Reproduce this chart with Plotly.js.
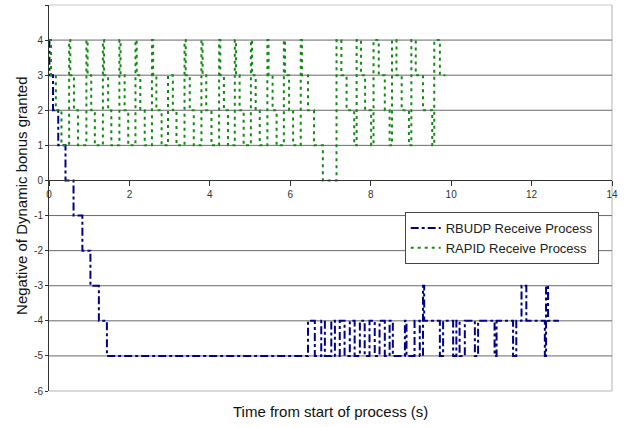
<!DOCTYPE html>
<html>
<head>
<meta charset="utf-8">
<script src="https://cdn.plot.ly/plotly-3.0.1.min.js"></script>
<style>html,body{margin:0;padding:0;background:#fff;}#chart{width:629px;height:427px;}</style>
</head>
<body>
<div id="chart"></div>
<script>
// RBUDP Receive Process (step series)
const rbudpTime = [0, 0.01, 0.10, 0.23, 0.41, 0.61, 0.83, 1.03, 1.24, 1.44,
  6.44, 6.61, 6.77, 6.86, 7.02, 7.11, 7.23, 7.35, 7.48, 7.60, 7.73, 7.85, 7.97, 8.10,
  8.22, 8.35, 8.47, 8.55, 8.85, 8.89, 9.09, 9.22, 9.30, 9.33, 9.72, 9.80, 10.05, 10.13,
  10.21, 10.34, 10.59, 10.67, 11.08, 11.13, 11.54, 11.62, 11.75, 11.87, 12.33, 12.36,
  12.41, 12.68];
const rbudpValue = [4, 3, 2, 1, 0, -1, -2, -3, -4, -5,
  -4, -5, -4, -5, -4, -5, -4, -5, -4, -5, -4, -5, -4, -5,
  -4, -5, -4, -5, -4, -5, -4, -5, -3, -4, -5, -4, -5, -4,
  -5, -4, -5, -4, -5, -4, -5, -4, -3, -4, -5, -3,
  -4, -4];

// RAPID Receive Process (step series)
const rapidTime = [0, 0.05, 0.17, 0.31,
  0.50, 0.53, 0.62, 0.72,
  0.93, 0.96, 1.05, 1.14,
  1.34, 1.37, 1.47, 1.55,
  1.75, 1.78, 1.88, 1.97,
  2.15, 2.18, 2.27, 2.38,
  2.56, 2.59, 2.67, 2.80,
  2.96, 3.08, 3.17,
  3.37, 3.40, 3.50, 3.60,
  3.79, 3.82, 3.91, 4.04,
  4.23, 4.26, 4.35, 4.45,
  4.62, 4.65, 4.74, 4.84,
  5.02, 5.05, 5.14, 5.24,
  5.43, 5.46, 5.56, 5.66,
  5.84, 5.87, 5.97, 6.07,
  6.26, 6.29, 6.44, 6.59, 6.81,
  7.15, 7.27, 7.40, 7.59,
  7.65, 7.76, 7.86, 8.01,
  8.07, 8.20, 8.35, 8.47,
  8.53, 8.64, 8.77, 8.95,
  9.01, 9.12, 9.30, 9.53,
  9.58, 9.72, 9.86];
const rapidValue = [4, 3, 2, 1,
  4, 3, 2, 1,
  4, 3, 2, 1,
  4, 3, 2, 1,
  4, 3, 2, 1,
  4, 3, 2, 1,
  4, 3, 2, 1,
  3, 2, 1,
  4, 3, 2, 1,
  4, 3, 2, 1,
  4, 3, 2, 1,
  4, 3, 2, 1,
  4, 3, 2, 1,
  4, 3, 2, 1,
  4, 3, 2, 1,
  4, 3, 2, 1, 0,
  4, 3, 2, 1,
  4, 3, 2, 1,
  4, 3, 2, 1,
  4, 3, 2, 1,
  4, 3, 2, 1,
  4, 3, 3];

const seriesNames = ["RBUDP Receive Process", "RAPID Receive Process"];
const xTickVals = [0, 2, 4, 6, 8, 10, 12, 14];
const xTickText = ["0", "2", "4", "6", "8", "10", "12", "14"];
const yTickVals = [-6, -5, -4, -3, -2, -1, 0, 1, 2, 3, 4, 5];
const yTickText = ["-6", "-5", "-4", "-3", "-2", "-1", "0", "1", "2", "3", "4", "5"];
const gridVals = [-5, -4, -3, -2, -1, 1, 2, 3, 4];
const xTitle = "Time from start of process (s)";
const yTitle = "Negative of Dynamic bonus granted";

const traces = [
  {
    x: rbudpTime, y: rbudpValue, name: seriesNames[0], type: "scatter", mode: "lines",
    line: {shape: "hv", color: "#000088", width: 2, dash: "8px,3px,3px,3px"}
  },
  {
    x: rapidTime, y: rapidValue, name: seriesNames[1], type: "scatter", mode: "lines",
    line: {shape: "hv", color: "#138a13", width: 2, dash: "3px,4px"}
  }
];

const tickFont = {family: "Liberation Sans, Arial, sans-serif", size: 10, color: "#333"};
const frameColor = "#b4b4b4";
const shapes = [
  {type: "line", xref: "paper", yref: "paper", x0: 0, x1: 1, y0: 1, y1: 1, line: {color: "#c8c8c8", width: 1}, layer: "below"},
  {type: "line", xref: "paper", yref: "paper", x0: 1, x1: 1, y0: 0, y1: 1, line: {color: frameColor, width: 1}, layer: "below"},
  {type: "line", xref: "paper", yref: "paper", x0: 0, x1: 1, y0: 0, y1: 0, line: {color: frameColor, width: 1}, layer: "below"}
];
gridVals.forEach(v => shapes.push({
  type: "line", xref: "paper", yref: "y", x0: 0, x1: 1, y0: v, y1: v,
  line: {color: "#6a6a6a", width: 1}, layer: "below"
}));

const layout = {
  width: 629, height: 427,
  margin: {l: 49, r: 17, t: 5, b: 36, pad: 0},
  paper_bgcolor: "#fff", plot_bgcolor: "#fff",
  showlegend: true,
  legend: {
    x: 0.9764, xanchor: "right", y: 0.4637, yanchor: "top",
    bgcolor: "#fff", bordercolor: "#444", borderwidth: 1,
    font: {family: "Liberation Sans, Arial, sans-serif", size: 13, color: "#222"},
    tracegroupgap: 0
  },
  xaxis: {
    range: [0, 14], tickvals: xTickVals, ticktext: xTickText,
    anchor: "free", position: 6 / 11,
    showline: true, linecolor: "#333", linewidth: 1,
    ticks: "outside", ticklen: 5, tickcolor: "#333", tickwidth: 1,
    showgrid: false, zeroline: false, tickfont: tickFont
  },
  yaxis: {
    range: [-6, 5], tickvals: yTickVals, ticktext: yTickText,
    showline: true, linecolor: "#333", linewidth: 1,
    ticks: "outside", ticklen: 3, tickcolor: "#333",
    showgrid: false, zeroline: false, tickfont: tickFont
  },
  shapes: shapes,
  annotations: [
    {text: xTitle, xref: "paper", yref: "paper", x: 0.5, y: -0.052,
     xanchor: "center", yanchor: "middle", showarrow: false,
     font: {family: "Liberation Sans, Arial, sans-serif", size: 15, color: "#111"}},
    {text: yTitle, xref: "paper", yref: "paper", x: -0.05, y: 0.505, textangle: -90,
     xanchor: "center", yanchor: "middle", showarrow: false,
     font: {family: "Liberation Sans, Arial, sans-serif", size: 15, color: "#111"}}
  ]
};

Plotly.newPlot("chart", traces, layout, {displayModeBar: false, staticPlot: true});
</script>
</body>
</html>
